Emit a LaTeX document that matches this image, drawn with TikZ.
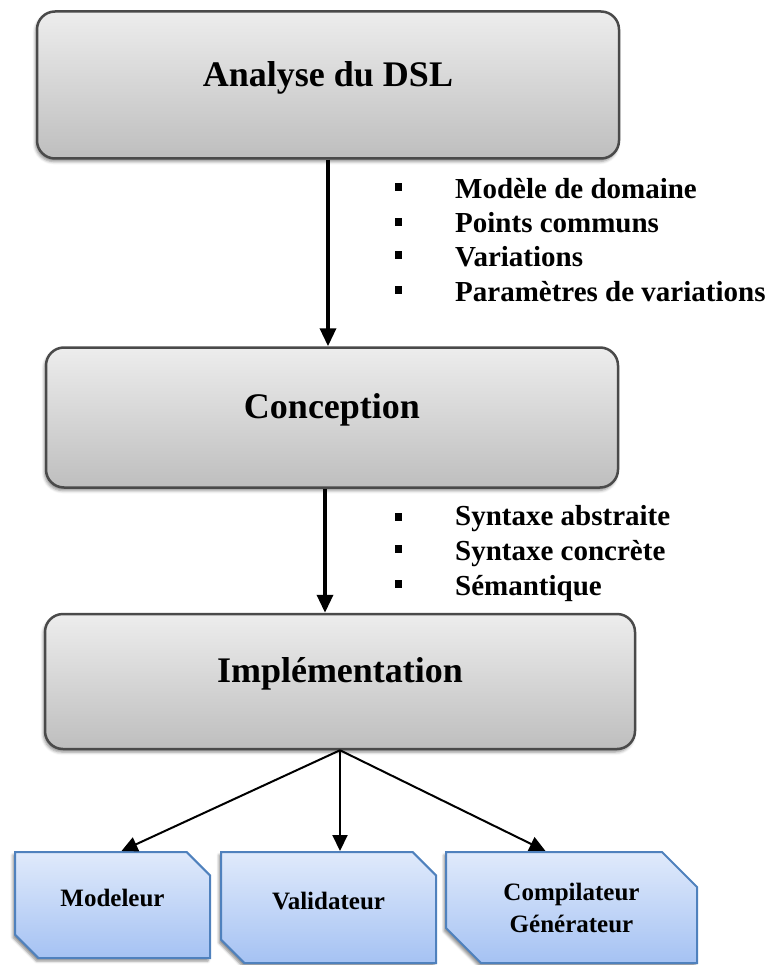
\documentclass[tikz,border=0pt]{standalone}
\usepackage{fontspec}
\setmainfont{Liberation Serif}
\usetikzlibrary{arrows.meta,shapes.misc,shadows.blur}

\definecolor{stageTop}{HTML}{EDEDED}
\definecolor{stageBot}{HTML}{BEBEBE}
\definecolor{stageLine}{HTML}{4A4A4A}
\definecolor{toolTop}{HTML}{E0EAFB}
\definecolor{toolBot}{HTML}{A5C2F3}
\definecolor{toolLine}{HTML}{4F81BD}

\tikzset{
  stage/.style={draw=stageLine, line width=2.5pt, rounded corners=18pt,
    top color=stageTop, bottom color=stageBot,
    blur shadow={shadow xshift=-1.5pt, shadow yshift=-3pt, shadow blur radius=3pt, shadow opacity=45},
    font=\fontsize{36}{40}\selectfont\bfseries,
    text height=0.7em, text depth=0.45em, inner sep=0pt},
  tool/.style={chamfered rectangle, chamfered rectangle corners={north east, south west},
    chamfered rectangle xsep=17pt, chamfered rectangle ysep=18pt,
    draw=toolLine, line width=2pt, top color=toolTop, bottom color=toolBot,
    blur shadow={shadow xshift=-2pt, shadow yshift=-3pt, shadow blur radius=2.5pt, shadow opacity=45},
    font=\fontsize{25}{32}\selectfont\bfseries, align=center, inner sep=0pt},
  flow/.style={line width=3.5pt, -{Triangle[length=18pt, width=16pt]}},
  fan/.style={line width=2pt, -{Triangle[length=16pt, width=15pt]}},
  bulletmark/.style={fill=black, minimum width=7pt, minimum height=8pt, inner sep=0pt},
  item/.style={anchor=base west, inner sep=0pt, font=\fontsize{29}{35}\selectfont\bfseries}
}

\begin{document}
\begin{tikzpicture}[x=1pt, y=-1pt]
  \useasboundingbox (0,0) rectangle (766,965);

  % the three stages
  \node[stage, minimum width=582pt, minimum height=147pt] (an) at (328,85) {Analyse du DSL};
  \node[stage, minimum width=572pt, minimum height=140pt] (conc) at (332,417.5) {Conception};
  \node[stage, minimum width=590pt, minimum height=135pt] (impl) at (340,681.5) {Implémentation};

  % the three tools
  \node[tool, minimum width=195pt, minimum height=106pt, text height=0.7em, text depth=0.38em] (mod) at (112.5,905) {Modeleur};
  \node[tool, minimum width=215pt, minimum height=111pt, text height=0.7em, text depth=0.38em] (val) at (328.5,907.5) {Validateur};
  \node[tool, minimum width=251pt, minimum height=111pt] (comp) at (571.5,907.5) {Compilateur\\Générateur};

  % flow between stages
  \draw[flow] (an.south -| 328,0) -- (conc.north -| 328,0);
  \draw[flow] (conc.south -| 325,0) -- (impl.north -| 325,0);

  % outputs of the implementation
  \draw[fan] (impl.south) -- ([xshift=9pt]mod.north);
  \draw[fan] (impl.south) -- (impl.south |- val.north);
  \draw[fan] (impl.south) -- ([xshift=-26pt]comp.north);

  % results of the analysis
  \node[bulletmark] (b1) at (398,187) {};
  \node[bulletmark] (b2) at (398,222) {};
  \node[bulletmark] (b3) at (398,255) {};
  \node[bulletmark] (b4) at (398,290) {};
  \node[item] (t1) at (455,199) {Modèle de domaine};
  \node[item] (t2) at (455,233) {Points communs};
  \node[item] (t3) at (455,266) {Variations};
  \node[item] (t4) at (455,301) {Paramètres de variations};

  % results of the design
  \node[bulletmark] (c1) at (398,517) {};
  \node[bulletmark] (c2) at (398,549) {};
  \node[bulletmark] (c3) at (398,584) {};
  \node[item] (s1) at (455,525) {Syntaxe abstraite};
  \node[item] (s2) at (455,560) {Syntaxe concrète};
  \node[item] (s3) at (455,595) {Sémantique};
\end{tikzpicture}
\end{document}
